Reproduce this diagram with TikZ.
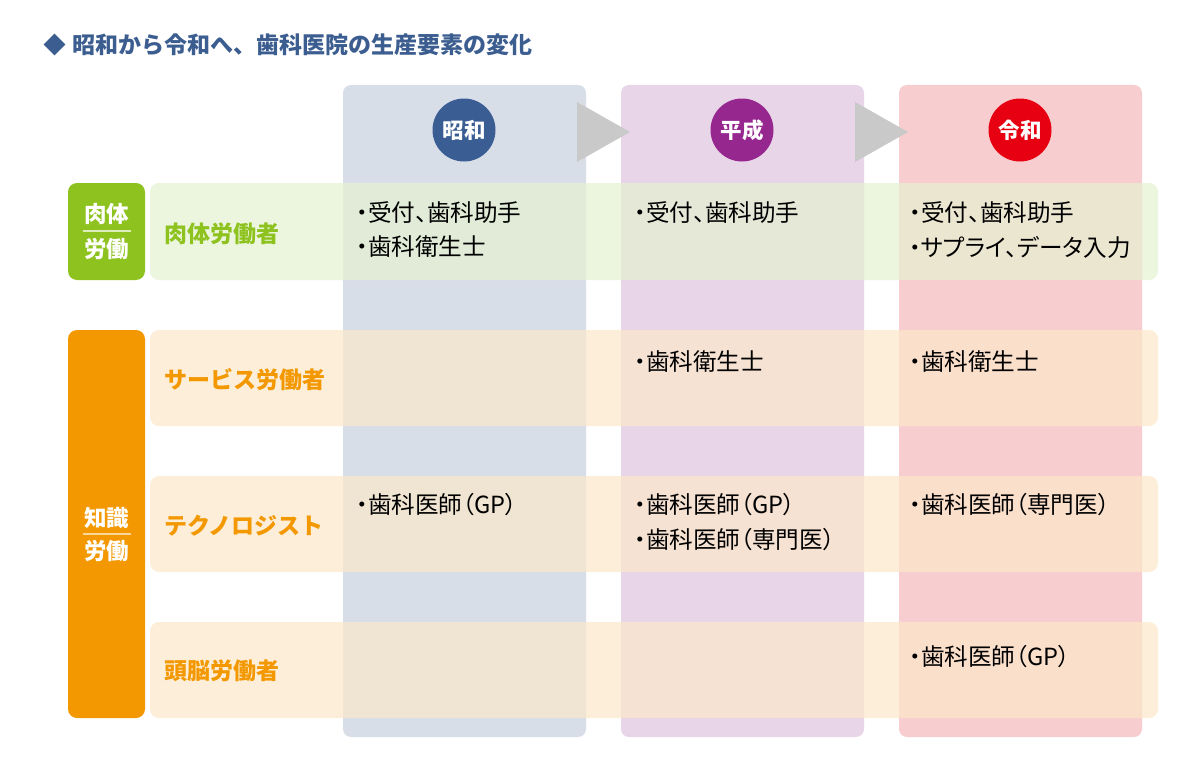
\documentclass[tikz,border=0pt]{standalone}
\usepackage{fontspec}
\setmainfont{Noto Sans CJK JP}
\newfontfamily\paltfont[RawFeature=+palt]{Noto Sans CJK JP}
\usetikzlibrary{shapes.geometric}
\definecolor{titleblue}{HTML}{3B5D8F}
\definecolor{colA}{HTML}{D8DEE8}
\definecolor{colB}{HTML}{E8D5E8}
\definecolor{colC}{HTML}{F8CDD0}
\definecolor{circA}{HTML}{3A5E93}
\definecolor{circB}{HTML}{95278F}
\definecolor{circC}{HTML}{E60012}
\definecolor{arrgray}{HTML}{C9C9C9}
\definecolor{greenlab}{HTML}{8DC21F}
\definecolor{orangelab}{HTML}{F39800}
\definecolor{greenrow}{RGB}{229,241,208}
\definecolor{orangerow}{RGB}{251,232,201}
\tikzset{
  colbox/.style={rounded corners=8pt},
  rowbox/.style={rounded corners=9pt, fill opacity=0.7},
  era/.style={circle, minimum size=63pt, inner sep=0pt, text=white, font=\fontsize{21.5}{23}\selectfont\bfseries},
  labbox/.style={rounded corners=9pt},
  labtxt/.style={text=white, font=\fontsize{22.5}{24}\selectfont\bfseries, inner sep=0pt},
  rowlab/.style={anchor=west, inner sep=0pt, font=\fontsize{23}{25}\selectfont\bfseries},
  cell/.style={anchor=west, inner sep=0pt, font=\paltfont\fontsize{23.6}{25}\selectfont},
  sepline/.style={line width=1.2pt},
}
\begin{document}
\begin{tikzpicture}[x=1pt,y=-1pt]
\useasboundingbox (0,0) rectangle (1200,768);
\fill[white] (0,0) rectangle (1200,768);
% title
\node[diamond, fill=titleblue, minimum size=22pt, inner sep=0pt] (tdia) at (54.5,44.5) {};
\node[anchor=west, inner sep=0pt, text=titleblue, font=\fontsize{23}{25}\selectfont\bfseries] (title) at (72,45) {昭和から令和へ、歯科医院の生産要素の変化};
% columns
\fill[colA, colbox] (343,85) rectangle (586,737);
\fill[colB, colbox] (621,85) rectangle (864,737);
\fill[colC, colbox] (899,85) rectangle (1142,737);
% arrows
\fill[arrgray] (577,102) -- (630,132) -- (577,162) -- cycle;
\fill[arrgray] (855,102) -- (908,132) -- (855,162) -- cycle;
% era circles
\node[era, fill=circA] (showa) at (464,130) {昭和};
\node[era, fill=circB] (heisei) at (742,130) {平成};
\node[era, fill=circC] (reiwa) at (1020,130) {令和};
% rows
\fill[greenrow, rowbox] (150,183) rectangle (1158,280);
\fill[orangerow, rowbox] (150,330) rectangle (1158,426);
\fill[orangerow, rowbox] (150,476) rectangle (1158,572);
\fill[orangerow, rowbox] (150,622) rectangle (1158,718);
% left labels
\fill[greenlab, labbox] (68,183) rectangle (145,280);
\node[labtxt] (g1) at (106.5,214) {肉体};
\draw[sepline, white!70!greenlab] (83,231) -- (131,231);
\node[labtxt] (g2) at (106.5,249) {労働};
\fill[orangelab, labbox] (68,330) rectangle (145,718);
\node[labtxt] (o1) at (106.5,518) {知識};
\draw[sepline, white!60!orangelab] (83,534) -- (131,534);
\node[labtxt] (o2) at (106.5,551) {労働};
% row labels
\node[rowlab, text=greenlab] (r1) at (164,234) {肉体労働者};
\node[rowlab, text=orangelab] (r2) at (164,380) {サービス労働者};
\node[rowlab, text=orangelab] (r3) at (164,526) {テクノロジスト};
\node[rowlab, text=orangelab] (r4) at (164,671) {頭脳労働者};
% cells
\node[cell] (a1) at (356,213) {・受付、歯科助手};
\node[cell] (a2) at (356,247) {・歯科衛生士};
\node[cell] (b1) at (634,213) {・受付、歯科助手};
\node[cell] (c1) at (909,213) {・受付、歯科助手};
\node[cell] (c2) at (909,247) {・サプライ、データ入力};
\node[cell] (b3) at (634,362) {・歯科衛生士};
\node[cell] (c3) at (909,362) {・歯科衛生士};
\node[cell] (a4) at (356,505) {・歯科医師（GP）};
\node[cell] (b4) at (634,505) {・歯科医師（GP）};
\node[cell] (b5) at (634,540) {・歯科医師（専門医）};
\node[cell] (c4) at (909,505) {・歯科医師（専門医）};
\node[cell] (c5) at (909,657) {・歯科医師（GP）};
\end{tikzpicture}
\end{document}
